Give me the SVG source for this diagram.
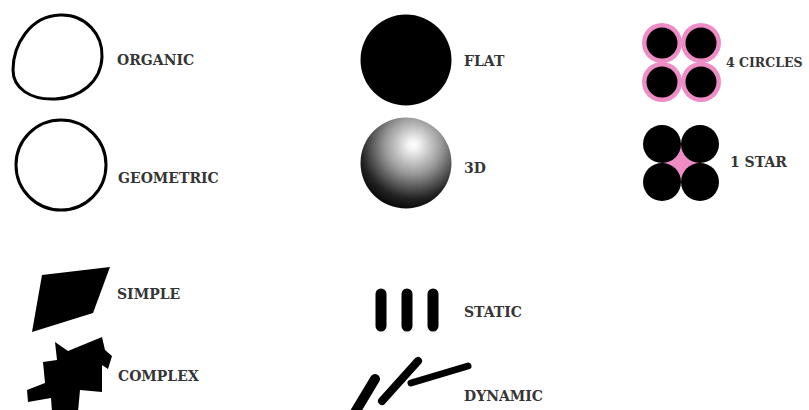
<svg xmlns="http://www.w3.org/2000/svg" width="809" height="410" viewBox="0 0 809 410">
<style>
  text { font-family: "DejaVu Serif", "Liberation Serif", serif; font-weight: bold; font-size: 14px; fill: #353535; }
  .outline { fill: none; stroke: #000; stroke-width: 3; }
  .blk { fill: #000; }
  .bar { stroke: #000; stroke-width: 11; stroke-linecap: round; fill: none; }
  .dyn { stroke: #000; stroke-linecap: round; fill: none; }
  .pink { fill: #ee8cc6; }
</style>
<defs>
  <radialGradient id="sphere" cx="0.58" cy="0.32" r="0.74" fx="0.58" fy="0.3">
    <stop offset="0" stop-color="#ffffff"/>
    <stop offset="0.08" stop-color="#f2f2f2"/>
    <stop offset="0.42" stop-color="#999999"/>
    <stop offset="0.78" stop-color="#222222"/>
    <stop offset="1" stop-color="#000000"/>
  </radialGradient>
</defs>
<rect width="809" height="410" fill="#fff"/>

<g id="organic">
  <path class="outline" d="M60,15 C86,14 103,35 102,57 C101,82 80,98 55,99 C30,100 13,88 13,70 C13,45 30,16 60,15 Z"/>
  <text x="117" y="65">ORGANIC</text>
</g>
<g id="geometric">
  <circle class="outline" cx="61" cy="165" r="45"/>
  <text x="118" y="183">GEOMETRIC</text>
</g>
<g id="flat">
  <circle class="blk" cx="406" cy="60" r="45.5"/>
  <text x="464" y="66">FLAT</text>
</g>
<g id="three-d">
  <circle cx="406" cy="163" r="45.5" fill="url(#sphere)"/>
  <text x="464" y="173">3D</text>
</g>
<g id="four-circles">
  <g class="pink">
    <circle cx="662" cy="43" r="20"/>
    <circle cx="701" cy="43" r="20"/>
    <circle cx="662" cy="82" r="20"/>
    <circle cx="701" cy="82" r="20"/>
  </g>
  <g class="blk">
    <circle cx="662" cy="43" r="15.5"/>
    <circle cx="701" cy="43" r="15.5"/>
    <circle cx="662" cy="82" r="15.5"/>
    <circle cx="701" cy="82" r="15.5"/>
  </g>
  <text x="726" y="67" style="font-size:12.5px">4 CIRCLES</text>
</g>
<g id="one-star">
  <polygon class="pink" points="681,143 701,163 681,183 661,163"/>
  <g class="blk">
    <circle cx="662" cy="144" r="19"/>
    <circle cx="700" cy="144" r="19"/>
    <circle cx="662" cy="182" r="19"/>
    <circle cx="700" cy="182" r="19"/>
  </g>
  <text x="730" y="167">1 STAR</text>
</g>
<g id="simple">
  <polygon class="blk" points="42,275 110,267 93,313 32,332"/>
  <text x="117" y="299">SIMPLE</text>
</g>
<g id="complex">
  <polygon class="blk" points="55,342 68,351 102,337 105,350 112,356 108,369 102,365 102,392 80,390 78,412 52,412 51,398 28,402 27,390 45,383 43,362 57,360"/>
  <text x="118" y="381">COMPLEX</text>
</g>
<g id="static">
  <line class="bar" x1="381" y1="294" x2="381" y2="326"/>
  <line class="bar" x1="407" y1="294" x2="407" y2="326"/>
  <line class="bar" x1="433" y1="294" x2="433" y2="326"/>
  <text x="464" y="317">STATIC</text>
</g>
<g id="dynamic">
  <line class="dyn" stroke-width="10" x1="354" y1="414" x2="375" y2="379"/>
  <line class="dyn" stroke-width="8" x1="382" y1="401" x2="418" y2="361"/>
  <line class="dyn" stroke-width="7" x1="411" y1="383" x2="468" y2="366"/>
  <text x="464" y="401">DYNAMIC</text>
</g>
</svg>
